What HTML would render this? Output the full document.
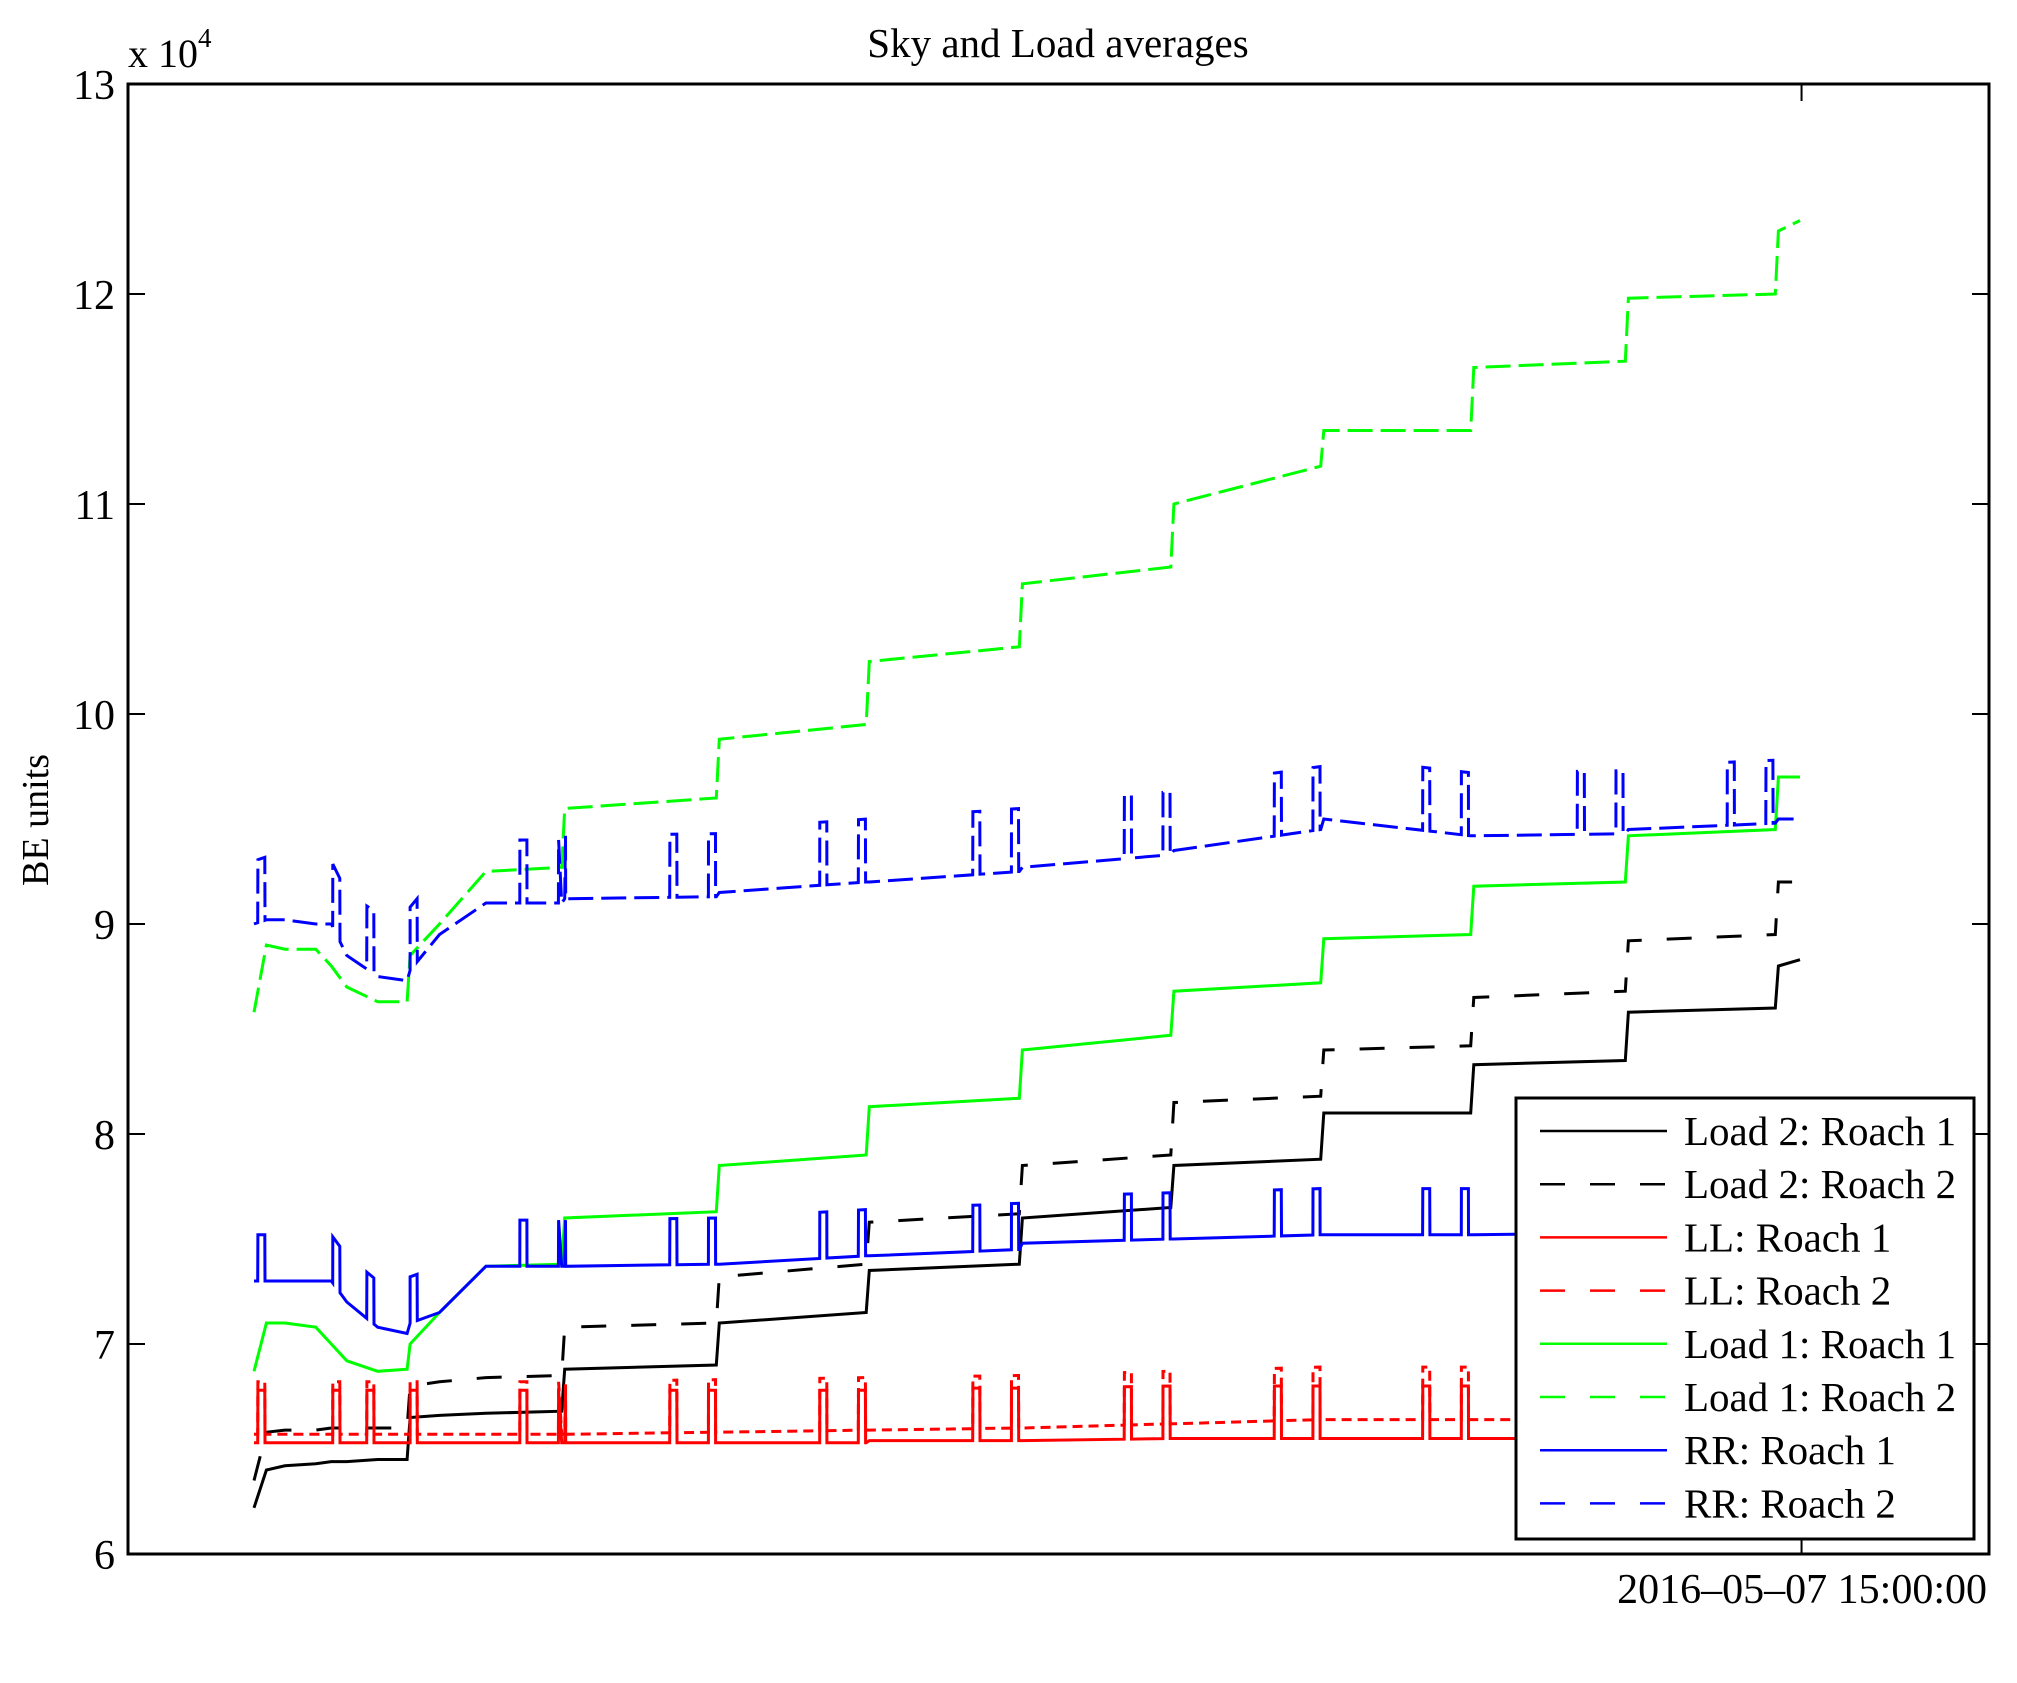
<!DOCTYPE html>
<html><head><meta charset="utf-8">
<style>
html,body{margin:0;padding:0;background:#fff;}
svg{display:block;font-family:"Liberation Serif","DejaVu Serif",serif;}
</style></head>
<body>
<svg id="chart" width="2017" height="1683" viewBox="0 0 2017 1683">
  <rect x="0" y="0" width="2017" height="1683" fill="#fff"/>
  <text x="1058" y="57" font-size="41" text-anchor="middle">Sky and Load averages</text>
  <text transform="translate(48,820) rotate(-90)" font-size="38" text-anchor="middle">BE units</text>
  <text x="128" y="67" font-size="40">x 10<tspan font-size="27" dy="-20">4</tspan></text>
  <g id="series"></g>
  <g id="axes"></g>
  <g id="legend"></g>
</svg>
<script>
const times = [0,0.8,2,4,5,6,8,9.9,10.1,12,15,19.9,20.1,29.9,30.1,39.6,39.8,49.5,49.7,59.3,59.5,69,69.2,78.7,78.9,88.7,88.9,98.4,98.6,100];
const load2r1 = [6.22,6.4,6.42,6.43,6.44,6.44,6.45,6.45,6.65,6.66,6.67,6.68,6.88,6.9,7.1,7.15,7.35,7.38,7.6,7.65,7.85,7.88,8.1,8.1,8.33,8.35,8.58,8.6,8.8,8.83];
const load2r2 = [6.35,6.58,6.59,6.59,6.6,6.6,6.6,6.6,6.8,6.82,6.84,6.85,7.08,7.1,7.32,7.38,7.58,7.62,7.85,7.9,8.15,8.18,8.4,8.42,8.65,8.68,8.92,8.95,9.2,9.2];
const llr1 = [6.53,6.53,6.53,6.53,6.53,6.53,6.53,6.53,6.53,6.53,6.53,6.53,6.53,6.53,6.53,6.53,6.54,6.54,6.54,6.55,6.55,6.55,6.55,6.55,6.55,6.55,6.55,6.55,6.56,6.56];
const llr2 = [6.57,6.57,6.57,6.57,6.57,6.57,6.57,6.57,6.57,6.57,6.57,6.57,6.57,6.58,6.58,6.59,6.59,6.6,6.6,6.62,6.62,6.64,6.64,6.64,6.64,6.64,6.64,6.65,6.65,6.65];
const load1r1 = [6.87,7.1,7.1,7.08,7.0,6.92,6.87,6.88,7.0,7.15,7.37,7.38,7.6,7.63,7.85,7.9,8.13,8.17,8.4,8.47,8.68,8.72,8.93,8.95,9.18,9.2,9.42,9.45,9.7,9.7];
const load1r2 = [8.58,8.9,8.88,8.88,8.8,8.7,8.63,8.63,8.85,9.0,9.25,9.27,9.55,9.6,9.88,9.95,10.25,10.32,10.62,10.7,11.0,11.18,11.35,11.35,11.65,11.68,11.98,12.0,12.3,12.35];
const rrr1 = [7.3,7.3,7.3,7.3,7.3,7.2,7.08,7.05,7.1,7.15,7.37,7.37,7.37,7.38,7.38,7.42,7.42,7.45,7.48,7.5,7.5,7.52,7.52,7.52,7.52,7.53,7.53,7.55,7.55,7.55];
const rrr2 = [9.0,9.02,9.02,9.0,9.0,8.85,8.75,8.73,8.78,8.95,9.1,9.1,9.12,9.13,9.15,9.2,9.2,9.25,9.27,9.33,9.35,9.45,9.5,9.42,9.42,9.43,9.45,9.48,9.5,9.5];
const spikeTimes = [0.25,5.1,7.3,10.1,17.2,19.7,26.9,29.4,36.6,39.1,46.5,49.0,56.3,58.8,66.0,68.5,75.6,78.1,85.6,88.1,95.3,97.8];
const spikeRed = [0.25,0.25];
const spikeBlue1 = [0.22];
const spikeBlue2 = [0.3];
const yTicks = [6,7,8,9,10,11,12,13];
const xTickLabels = ["2016\u201305\u201307 15:00:00"];
const xTickTimes = [100.1];
const legendLabels = ["Load 2: Roach 1","Load 2: Roach 2","LL: Roach 1","LL: Roach 2","Load 1: Roach 1","Load 1: Roach 2","RR: Roach 1","RR: Roach 2"];

const L=128,R=1989,T=84,B=1554;
const X0=254,X1=1800;
function xs(t){return X0+(X1-X0)*t/100;}
function ys(v){return B-(v-6)/7*(B-T);}
const NS="http://www.w3.org/2000/svg";
function mk(tag,attrs,parent){const e=document.createElementNS(NS,tag);for(const k in attrs)e.setAttribute(k,attrs[k]);parent.appendChild(e);return e;}

function baseAt(vals,t){
  for(let i=0;i<times.length-1;i++){
    if(t>=times[i]&&t<=times[i+1]){const f=(t-times[i])/(times[i+1]-times[i]);return vals[i]+f*(vals[i+1]-vals[i]);}
  }
  return vals[vals.length-1];
}
function buildPath(vals,amp){
  let pts=times.map((t,i)=>[t,vals[i]]);
  if(amp){
    spikeTimes.forEach(st=>{
      const w=0.45;
      [st-0.01,st,st+w,st+w+0.01].forEach((t,j)=>{
        const b=baseAt(vals,t);
        pts.push([t,(j===1||j===2)?b+amp:b]);
      });
    });
    pts.sort((a,b)=>a[0]-b[0]);
  }
  return "M"+pts.map(p=>xs(p[0]).toFixed(1)+","+ys(p[1]).toFixed(1)).join("L");
}
const seriesG=document.getElementById('series');
const series=[
  {v:load2r1,c:"#000",d:null,a:0,n:"line-load2-roach1"},
  {v:load2r2,c:"#000",d:"25 25",a:0,n:"line-load2-roach2"},
  {v:llr1,c:"#f00",d:null,a:spikeRed[0],n:"line-ll-roach1"},
  {v:llr2,c:"#f00",d:"10 6",a:spikeRed[1],n:"line-ll-roach2"},
  {v:load1r1,c:"#0f0",d:null,a:0,n:"line-load1-roach1"},
  {v:load1r2,c:"#0f0",d:"25 8",a:0,n:"line-load1-roach2"},
  {v:rrr1,c:"#00f",d:null,a:spikeBlue1[0],n:"line-rr-roach1"},
  {v:rrr2,c:"#00f",d:"25 8",a:spikeBlue2[0],n:"line-rr-roach2"}
];
series.forEach(s=>{
  const p=mk('path',{d:buildPath(s.v,s.a),fill:"none",stroke:s.c,"stroke-width":"3"},seriesG);
  if(s.d)p.setAttribute('stroke-dasharray',s.d);
  
  
});

const ax=document.getElementById('axes');
const box=mk('rect',{x:L,y:T,width:R-L,height:B-T,fill:"none",stroke:"#000","stroke-width":"3"},ax);


yTicks.forEach(v=>{
  const y=ys(v);
  const t1=mk('line',{x1:L,x2:L+17,y1:y,y2:y,stroke:"#000","stroke-width":"2"},ax);
  
  
  const t2=mk('line',{x1:R-17,x2:R,y1:y,y2:y,stroke:"#000","stroke-width":"2"},ax);
  
  
  const lb=mk('text',{x:L-13,y:y+15,"font-size":"42","text-anchor":"end"},ax);
  lb.textContent=String(v);
  
  
});
xTickTimes.forEach((t,i)=>{
  const x=xs(t);
  const a=mk('line',{x1:x,x2:x,y1:B,y2:B-17,stroke:"#000","stroke-width":"2"},ax);
  
  
  const b=mk('line',{x1:x,x2:x,y1:T,y2:T+17,stroke:"#000","stroke-width":"2"},ax);
  
  
  const lb=mk('text',{x:R-2,y:1603,"font-size":"42","text-anchor":"end"},ax);
  lb.textContent=xTickLabels[i];
  
  
});

const lg=document.getElementById('legend');
const lbx=mk('rect',{x:1516,y:1098,width:458,height:441,fill:"#fff",stroke:"#000","stroke-width":"3"},lg);


legendLabels.forEach((lab,i)=>{
  const y=1131+i*53.2;
  const s=series[i];
  const ln=mk('line',{x1:1540,x2:1667,y1:y,y2:y,stroke:s.c,"stroke-width":"2.5"},lg);
  if(s.d)ln.setAttribute('stroke-dasharray',"25 25");
  
  
  const tx=mk('text',{x:1684,y:y+14,"font-size":"41"},lg);
  tx.textContent=lab;
  
  
});
</script>
</body></html>
